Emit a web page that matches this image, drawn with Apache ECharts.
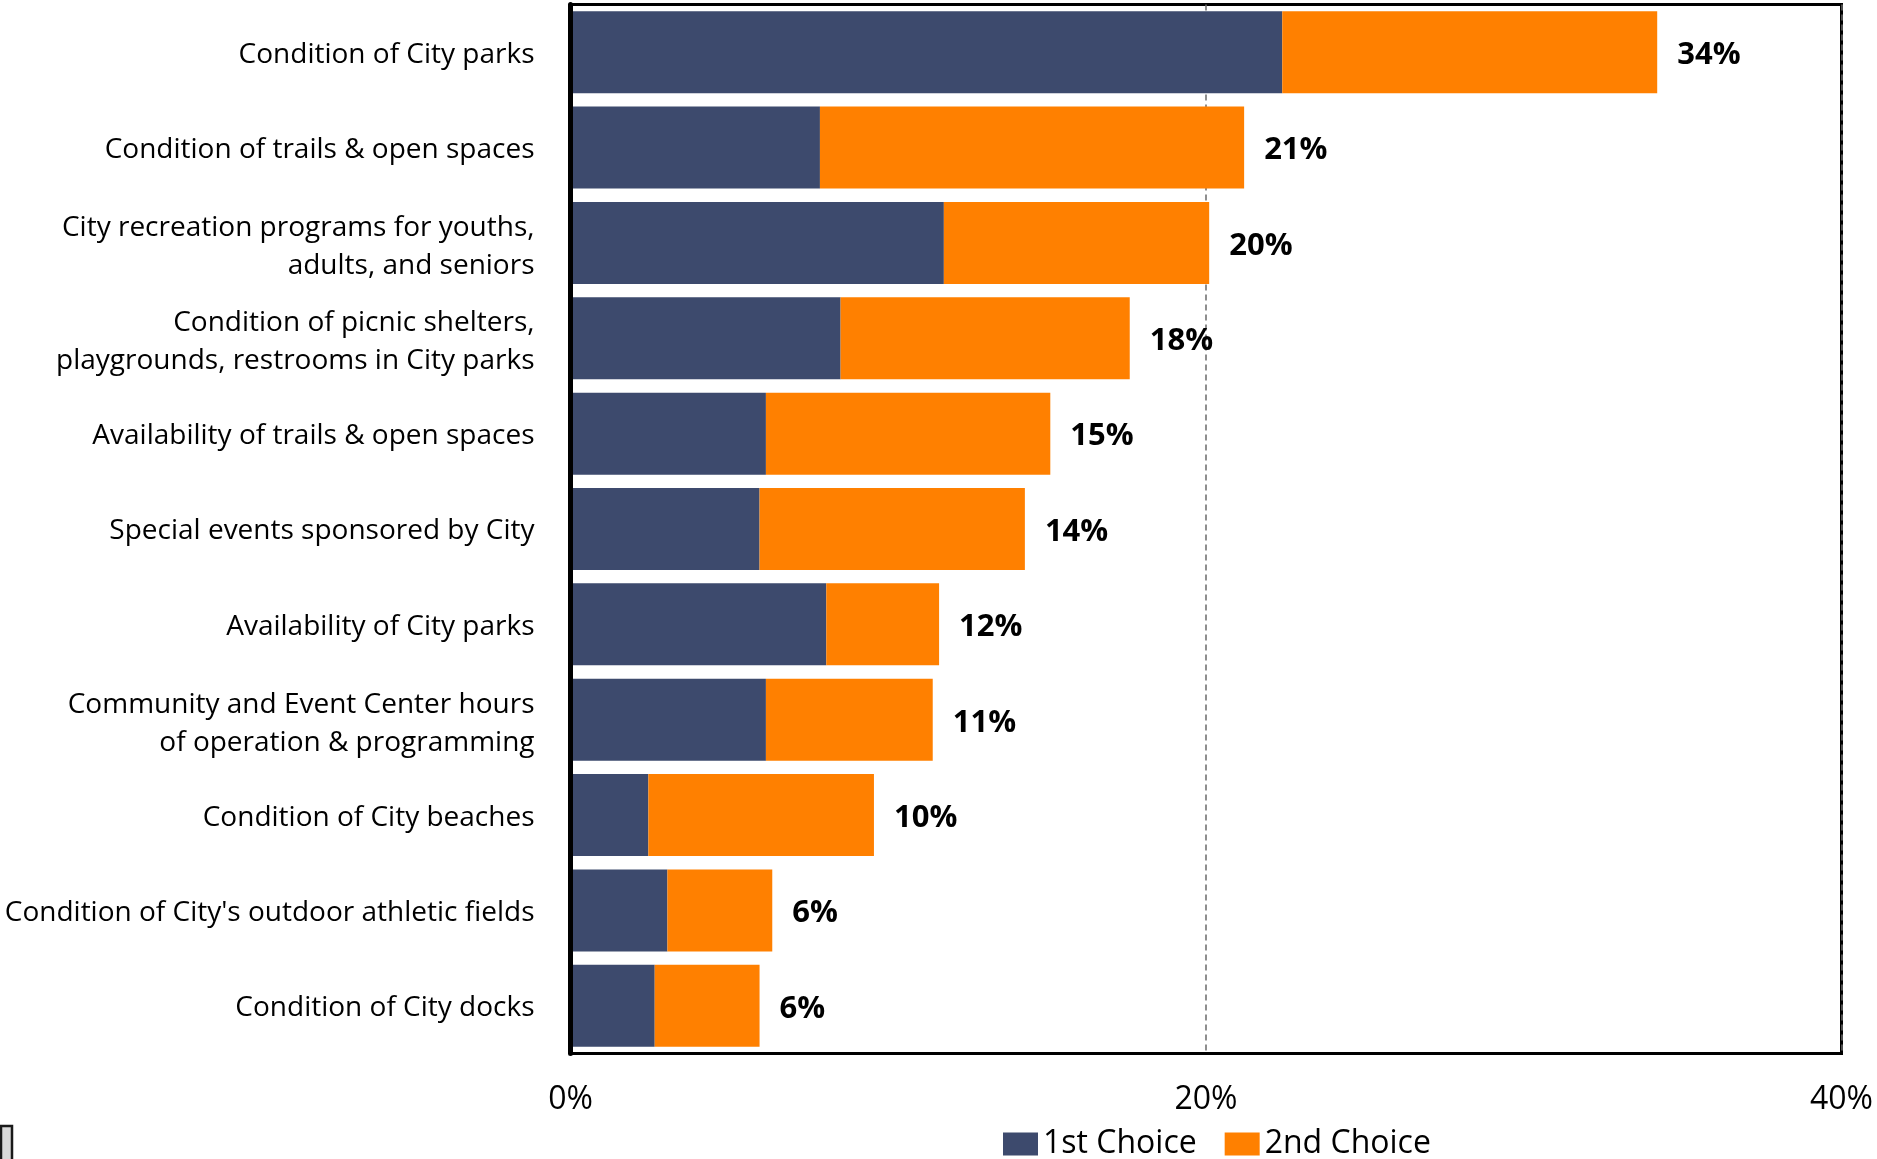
<!DOCTYPE html>
<html>
<head>
<meta charset="utf-8">
<script src="https://cdn.jsdelivr.net/npm/echarts@6/dist/echarts.min.js"></script>
<style>
  html, body { margin: 0; padding: 0; background: #fff; }
  #chart { width: 1877px; height: 1159px; }
</style>
</head>
<body>
<div id="chart"></div>
<script>
// Park & recreation priorities: share of respondents (%), top to bottom
const categories = [
  "Condition of City parks",
  "Condition of trails & open spaces",
  "City recreation programs for youths,\nadults, and seniors",
  "Condition of picnic shelters,\nplaygrounds, restrooms in City parks",
  "Availability of trails & open spaces",
  "Special events sponsored by City",
  "Availability of City parks",
  "Community and Event Center hours\nof operation & programming",
  "Condition of City beaches",
  "Condition of City's outdoor athletic fields",
  "Condition of City docks"
];
const firstChoice  = [22.4, 7.85, 11.75, 8.5, 6.15, 5.95, 8.05, 6.15, 2.45, 3.05, 2.65];
const secondChoice = [11.8, 13.35, 8.35, 9.1, 8.95, 8.35, 3.55, 5.25, 7.1, 3.3, 3.3];
const seriesNames = ["1st Choice", "2nd Choice"];
const xTicks = { min: 0, max: 40, interval: 20 };

const FONT = "'Open Sans', 'Noto Sans', sans-serif";
const DARK = "#3D4A6D";
const ORANGE = "#FF8000";

const chart = echarts.init(document.getElementById("chart"), null, { renderer: "canvas" });

// Category labels: single-line labels get a small top pad; for two-line
// labels both lines are padded so the second line sits a bit lower.
function categoryLabel(value) {
  const lines = value.split("\n");
  if (lines.length === 1) return "{single|" + value + "}";
  return lines
    .map((line, i) => (i === 0 ? "{first|" : "{rest|") + line + "}")
    .join("\n");
}

const catText = { fontFamily: FONT, fontSize: 28, color: "#000", lineHeight: 39 };

chart.setOption({
  animation: false,
  backgroundColor: "#ffffff",
  textStyle: { fontFamily: FONT, color: "#000" },
  grid: {
    left: 570.5, right: 35.5, top: 4.5, bottom: 105.5,
    show: true, borderColor: "#000", borderWidth: 3,
    containLabel: false
  },
  legend: {
    data: seriesNames,
    left: 1003, top: 1128,
    padding: 0,
    itemWidth: 35, itemHeight: 23, itemGap: 28,
    icon: "rect",
    textStyle: { fontFamily: FONT, fontSize: 32, color: "#000", padding: [0, 0, 0, 0], lineHeight: 32 }
  },
  xAxis: {
    type: "value",
    min: xTicks.min, max: xTicks.max, interval: xTicks.interval,
    axisLine: { show: false },
    axisTick: { show: false },
    axisLabel: {
      formatter: v => v + "%",
      fontFamily: FONT, fontSize: 32, color: "#000", margin: 30
    },
    splitLine: {
      show: true,
      lineStyle: { color: "#6a6a6a", width: 1.5, type: [6, 4] }
    }
  },
  yAxis: {
    type: "category",
    inverse: true,
    data: categories,
    z: 5,
    axisLine: { show: true, lineStyle: { color: "#000", width: 5 } },
    axisTick: { show: false },
    axisLabel: {
      fontFamily: FONT, fontSize: 28, color: "#000",
      margin: 36, lineHeight: 39, align: "right",
      formatter: categoryLabel,
      rich: {
        single: Object.assign({}, catText, { padding: [5, 0, 0, 0] }),
        first: Object.assign({}, catText, { padding: [9, 0, 0, 0] }),
        rest: Object.assign({}, catText, { padding: [7, 0, 0, 0] })
      }
    }
  },
  series: [
    {
      name: seriesNames[0],
      type: "bar",
      stack: "total",
      data: firstChoice,
      itemStyle: { color: DARK },
      barCategoryGap: "14%"
    },
    {
      name: seriesNames[1],
      type: "bar",
      stack: "total",
      data: secondChoice,
      itemStyle: { color: ORANGE },
      barCategoryGap: "14%",
      label: {
        show: true,
        position: "right",
        distance: 20,
        offset: [0, 3],
        fontFamily: FONT, fontSize: 31, fontWeight: "bold", color: "#000",
        formatter: p => Math.round(firstChoice[p.dataIndex] + secondChoice[p.dataIndex]) + "%"
      }
    }
  ],
  graphic: [
    {
      type: "rect",
      shape: { x: 1, y: 1126, width: 11, height: 40 },
      style: { fill: "#d9d9d9", stroke: "#1a1a1a", lineWidth: 2.5 },
      silent: true
    }
  ]
});
</script>
</body>
</html>
